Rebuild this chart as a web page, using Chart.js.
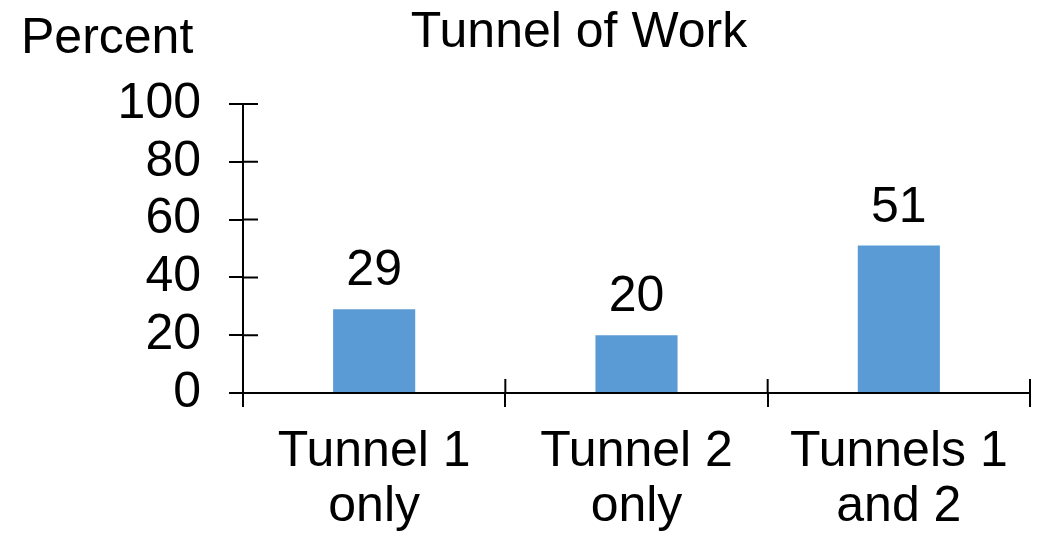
<!DOCTYPE html>
<html>
<head>
<meta charset="utf-8">
<title>Tunnel of Work</title>
<script src="https://cdn.jsdelivr.net/npm/chart.js@4"></script>
<style>
  html, body { margin: 0; padding: 0; background: #fff; }
  #wrap { width: 1039px; height: 540px; position: relative; }
</style>
</head>
<body>
<div id="wrap"><canvas id="chart"></canvas></div>
<script>
const categories = [['Tunnel 1', 'only'], ['Tunnel 2', 'only'], ['Tunnels 1', 'and 2']];
const percents = [29, 20, 51];
const yTicks = [0, 20, 40, 60, 80, 100];

const FONT = '"Liberation Sans", Arial, sans-serif';
const INK = '#000';

// value labels above bars, headings, and the inner half of each tick mark
const extras = {
  id: 'extras',
  afterDraw(chart) {
    const { ctx, scales: { x, y } } = chart;
    ctx.save();
    ctx.strokeStyle = INK;
    ctx.lineWidth = 2;
    ctx.beginPath();
    yTicks.forEach(v => {
      const py = y.getPixelForValue(v);
      ctx.moveTo(x.left, py);
      ctx.lineTo(x.left + 15, py);
    });
    for (let i = 1; i <= categories.length; i++) {
      const px = x.getPixelForValue(i - 0.5);
      ctx.moveTo(px, y.bottom);
      ctx.lineTo(px, y.bottom - 14);
    }
    ctx.stroke();

    ctx.fillStyle = INK;
    ctx.font = '50px ' + FONT;
    ctx.textAlign = 'center';
    ctx.textBaseline = 'alphabetic';
    chart.getDatasetMeta(0).data.forEach((bar, i) => {
      ctx.fillText(String(percents[i]), bar.x, bar.y - 24);
    });

    ctx.textAlign = 'left';
    ctx.fillText('Percent', 21, 53);
    ctx.textAlign = 'center';
    ctx.fillText('Tunnel of Work', 579, 47);
    ctx.restore();
  }
};

new Chart(document.getElementById('chart'), {
  type: 'bar',
  data: {
    labels: categories,
    datasets: [{
      data: percents,
      backgroundColor: '#5B9BD5',
      borderWidth: 0,
      categoryPercentage: 1,
      barPercentage: 0.313
    }]
  },
  options: {
    responsive: true,
    maintainAspectRatio: false,
    animation: false,
    layout: { padding: { top: 104, right: 9, bottom: 0, left: 0 } },
    plugins: {
      legend: { display: false },
      tooltip: { enabled: false },
      title: { display: false }
    },
    scales: {
      x: {
        offset: true,
        afterFit(scale) { scale.height = 147; },
        border: { display: true, color: INK, width: 2 },
        grid: {
          offset: true,
          drawOnChartArea: false,
          drawTicks: true,
          tickLength: 14,
          color: INK,
          lineWidth: 2
        },
        ticks: {
          color: INK,
          padding: 18,
          maxRotation: 0,
          autoSkip: false,
          font: { family: FONT, size: 50, lineHeight: 1.1 }
        }
      },
      y: {
        min: 0,
        max: 100,
        afterFit(scale) { scale.width = 243; },
        afterBuildTicks(scale) { scale.ticks = yTicks.map(v => ({ value: v })); },
        border: { display: true, color: INK, width: 2 },
        grid: {
          drawOnChartArea: false,
          drawTicks: true,
          tickLength: 14,
          color: INK,
          lineWidth: 2
        },
        ticks: {
          color: INK,
          padding: 28,
          autoSkip: false,
          font: { family: FONT, size: 50 }
        }
      }
    }
  },
  plugins: [extras]
});
</script>
</body>
</html>
